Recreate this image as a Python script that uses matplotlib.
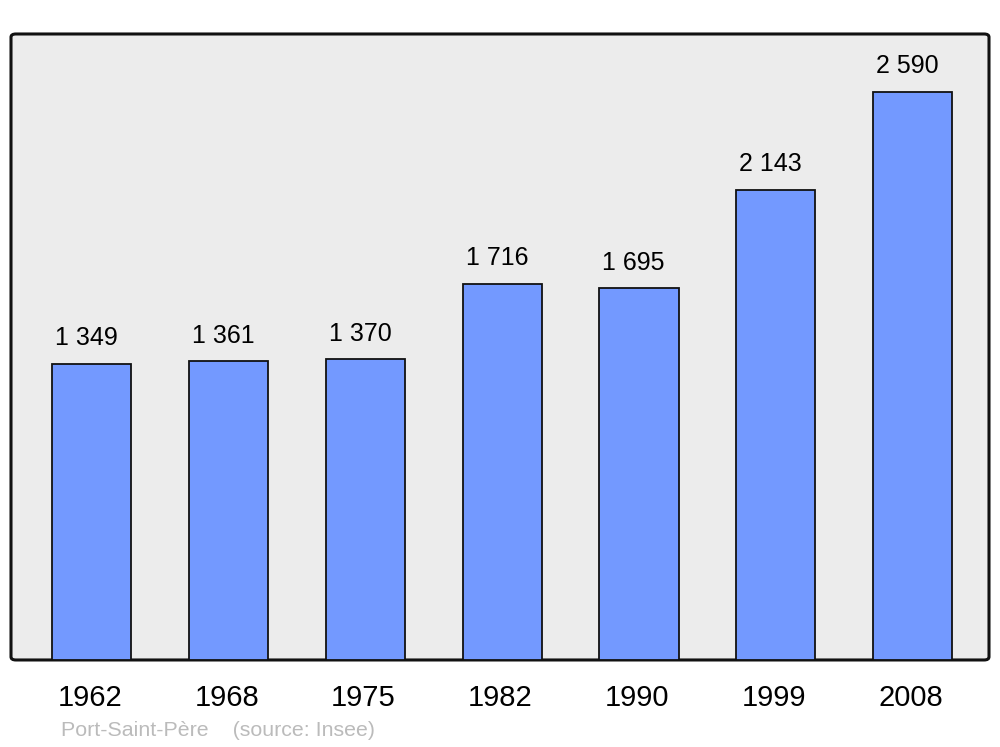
import matplotlib
matplotlib.use("Agg")
import matplotlib.pyplot as plt
import matplotlib.transforms as mtransforms
from matplotlib.patches import FancyBboxPatch

# data
years = ["1962", "1968", "1975", "1982", "1990", "1999", "2008"]
population = [1349, 1361, 1370, 1716, 1695, 2143, 2590]
labels = ["1 349", "1 361", "1 370", "1 716", "1 695", "2 143", "2 590"]

plt.rcParams['font.family'] = ['Liberation Sans', 'DejaVu Sans']

fig = plt.figure(figsize=(10, 7.47), dpi=100)
ax = fig.add_axes([0.011, 0.1165, 0.978, 0.838])
ax.set_facecolor('none')

# rounded frame behind the bars
frame = FancyBboxPatch((0, 0), 1, 1,
                       boxstyle="round,pad=0,rounding_size=0.005",
                       transform=ax.transAxes, facecolor='#ececec',
                       edgecolor='#111111', linewidth=2.2, zorder=0,
                       clip_on=False)
ax.add_patch(frame)

x = list(range(len(years)))
bars = ax.bar(x, population, width=0.578, color='#7399ff',
              edgecolor='#111111', linewidth=1.3, zorder=2)

for xi, val, lab in zip(x, population, labels):
    ax.annotate(lab, (xi - 0.04, val), xytext=(0, 18.5), textcoords='offset points',
                ha='center', va='center', fontsize=18)

ax.set_xlim(-0.592, 6.559)
ax.set_ylim(0, 2854)
ax.set_xticks(x)
ax.set_xticklabels(years, fontsize=21)
ax.tick_params(axis='x', length=0, pad=17)
shift = mtransforms.ScaledTranslation(-1.5 / 72, 0, fig.dpi_scale_trans)
for t in ax.get_xticklabels():
    t.set_transform(t.get_transform() + shift)
ax.set_yticks([])
for s in ax.spines.values():
    s.set_visible(False)

fig.text(0.061, 1 - 730 / 747, "Port-Saint-Père    (source: Insee)",
         color='#bbbbbb', fontsize=15.4, ha='left', va='center')

fig.savefig("out.png", dpi=100)
